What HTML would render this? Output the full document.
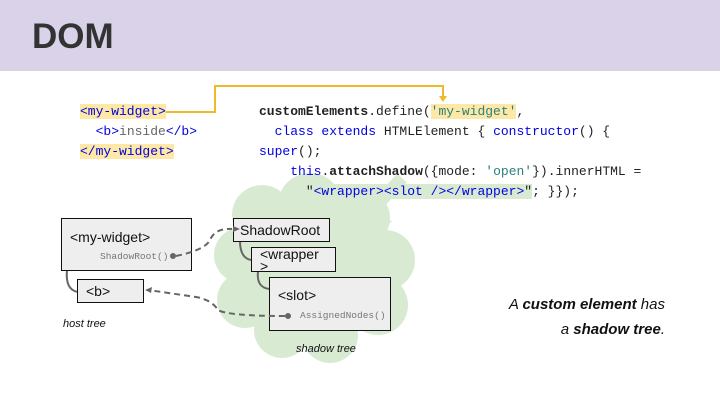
<!DOCTYPE html>
<html><head><style>
body{margin:0;width:720px;height:405px;background:#fff;position:relative;overflow:hidden;font-family:"Liberation Sans",sans-serif}
.hdr{position:absolute;left:0;top:0;width:720px;height:71px;background:#d9d2e9}
.hdr div{position:absolute;left:32px;top:17px;font-size:35px;font-weight:bold;color:#333}
.code{position:absolute;font-family:"Liberation Mono",monospace;font-size:13px;line-height:20px;white-space:pre;color:#222}
.k{color:#0000e0}.s{color:#2a8080}.g{color:#666}
.hl{background:#fde8a6}.hg{background:#d9ead3}
.box{position:absolute;background:#eeeeee;border:1px solid #111;box-sizing:border-box;font-size:14px;color:#111}
.sm{font-family:"Liberation Mono",monospace;font-size:9.5px;color:#777;position:absolute}
.it{position:absolute;font-style:italic}
</style></head><body>
<div class="hdr"><div>DOM</div></div>
<svg width="720" height="405" style="position:absolute;left:0;top:0">
<g fill="#d9ead3">
<circle cx="262" cy="215" r="30"/><circle cx="310" cy="205" r="32"/><circle cx="360" cy="218" r="30"/>
<circle cx="385" cy="260" r="30"/><circle cx="378" cy="305" r="30"/><circle cx="330" cy="335" r="28"/>
<circle cx="282" cy="330" r="28"/><circle cx="245" cy="300" r="28"/><circle cx="242" cy="255" r="28"/>
<circle cx="315" cy="270" r="55"/>
</g>
<line x1="402" y1="178" x2="376" y2="206" stroke="#d9ead3" stroke-width="13"/>
<polygon fill="#d9ead3" points="358,232 364,196 392,222"/>
<polyline points="166,112 215,112 215,86 443,86 443,98" fill="none" stroke="#f0b92a" stroke-width="2"/>
<polygon points="439,96 447,96 443,102" fill="#f0b92a"/>
<g fill="none" stroke="#666" stroke-width="2">
<path d="M67 270 Q65 290 78 292"/>
<path d="M240 241 Q240 258 251 260"/>
<path d="M258 271 Q256 288 270 289"/>
</g>
</svg>
<div class="code" style="left:80px;top:102px"><span class="k hl">&lt;my-widget&gt;</span>
  <span class="k">&lt;b&gt;</span><span class="g">inside</span><span class="k">&lt;/b&gt;</span>
<span class="k hl">&lt;/my-widget&gt;</span></div>
<div class="code" style="left:259px;top:102px"><b>customElements</b>.define(<span class="s hl">'my-widget'</span>,
  <span class="k">class extends</span> HTMLElement { <span class="k">constructor</span>() {
<span class="k">super</span>();
    <span class="k">this</span>.<b>attachShadow</b>({mode: <span class="s">'open'</span>}).innerHTML =
      <span class="hg">"<span class="k">&lt;wrapper&gt;&lt;slot /&gt;&lt;/wrapper&gt;</span>"</span>; }});</div>
<div class="box" style="left:61px;top:218px;width:131px;height:53px"><span style="position:absolute;left:8px;top:10px">&lt;my-widget&gt;</span><span class="sm" style="left:38px;top:32px">ShadowRoot()</span></div>
<div class="box" style="left:77px;top:279px;width:67px;height:24px"><span style="position:absolute;left:8px;top:3px">&lt;b&gt;</span></div>
<div class="box" style="left:233px;top:218px;width:97px;height:24px"><span style="position:absolute;left:6px;top:3px">ShadowRoot</span></div>
<div class="box" style="left:251px;top:247px;width:85px;height:25px;line-height:12px"><span style="position:absolute;left:8px;top:0px">&lt;wrapper<br>&gt;</span></div>
<div class="box" style="left:269px;top:277px;width:122px;height:54px"><span style="position:absolute;left:8px;top:9px">&lt;slot&gt;</span><span class="sm" style="left:30px;top:32px">AssignedNodes()</span></div>
<svg width="720" height="405" style="position:absolute;left:0;top:0">
<g fill="none" stroke="#666" stroke-width="2" stroke-dasharray="6,4">
<path d="M176 256 Q205 250 210 240 Q215 228 232 229"/>
<path d="M285 316 Q228 316 218 310 Q212 300 196 297 L148 290"/>
</g>
<circle cx="173" cy="256" r="3" fill="#666"/><circle cx="288" cy="316" r="3" fill="#666"/>
<polygon points="233,226 240,229 233,232" fill="#666"/>
<polygon points="145,290 152,287 151,293" fill="#666"/>
</svg>
<div class="it" style="left:63px;top:318px;font-size:11px;color:#111">host tree</div>
<div class="it" style="left:296px;top:343px;font-size:11px;color:#111">shadow tree</div>
<div class="it" style="right:55px;top:292px;font-size:15px;color:#111;text-align:right;line-height:25px">A <b>custom element</b> has<br>a <b>shadow tree</b>.</div>
</body></html>
